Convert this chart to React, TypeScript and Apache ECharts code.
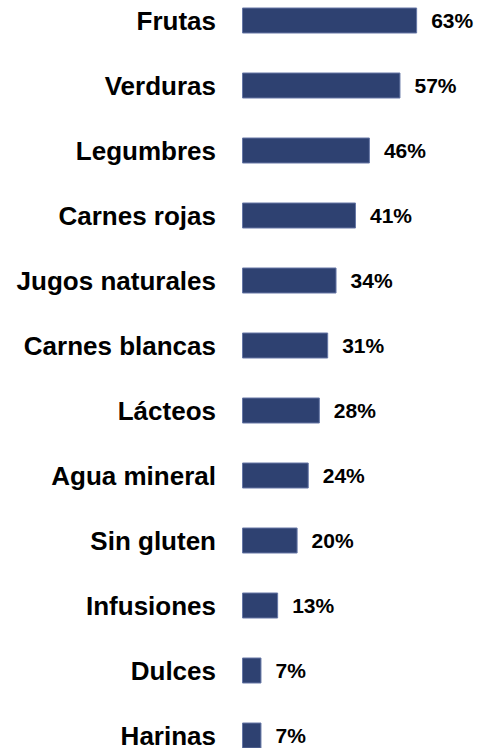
import React, { useEffect, useRef } from "react";
import * as echarts from "echarts";

const categories = [
  "Frutas",
  "Verduras",
  "Legumbres",
  "Carnes rojas",
  "Jugos naturales",
  "Carnes blancas",
  "Lácteos",
  "Agua mineral",
  "Sin gluten",
  "Infusiones",
  "Dulces",
  "Harinas",
];
const values = [63, 57, 46, 41, 34, 31, 28, 24, 20, 13, 7, 7];

const FONT = "'Liberation Sans', Arial, sans-serif";

export default function App() {
  const ref = useRef<HTMLDivElement>(null);
  useEffect(() => {
    if (!ref.current) return;
    const chart = echarts.init(ref.current, undefined, { renderer: "svg" });
    chart.setOption({
      animation: false,
      grid: { left: 242, right: 14.6, top: 0, bottom: 0, containLabel: false },
      xAxis: {
        type: "value",
        min: 0,
        max: 80,
        show: false,
      },
      yAxis: {
        type: "category",
        data: categories,
        inverse: true,
        axisLine: { show: false },
        axisTick: { show: false },
        splitLine: { show: false },
        axisLabel: {
          margin: 26,
          color: "#000000",
          fontFamily: FONT,
          fontWeight: "bold",
          fontSize: 26,
        },
      },
      series: [
        {
          type: "bar",
          data: values,
          barWidth: 26,
          itemStyle: {
            color: "#2E4171",
            borderColor: "#6677a6",
            borderWidth: 1,
          },
          label: {
            show: true,
            position: "right",
            distance: 14,
            formatter: "{c}%",
            color: "#000000",
            fontFamily: FONT,
            fontWeight: "bold",
            fontSize: 21,
          },
        },
      ],
    });
    return () => chart.dispose();
  }, []);
  return (
    <div
      style={{
        position: "absolute",
        left: 0,
        top: 0,
        width: 479,
        height: 748,
        overflow: "hidden",
        background: "#ffffff",
      }}
    >
      <div
        ref={ref}
        style={{ position: "absolute", left: 0, top: -12.5, width: 479, height: 780 }}
      />
    </div>
  );
}
